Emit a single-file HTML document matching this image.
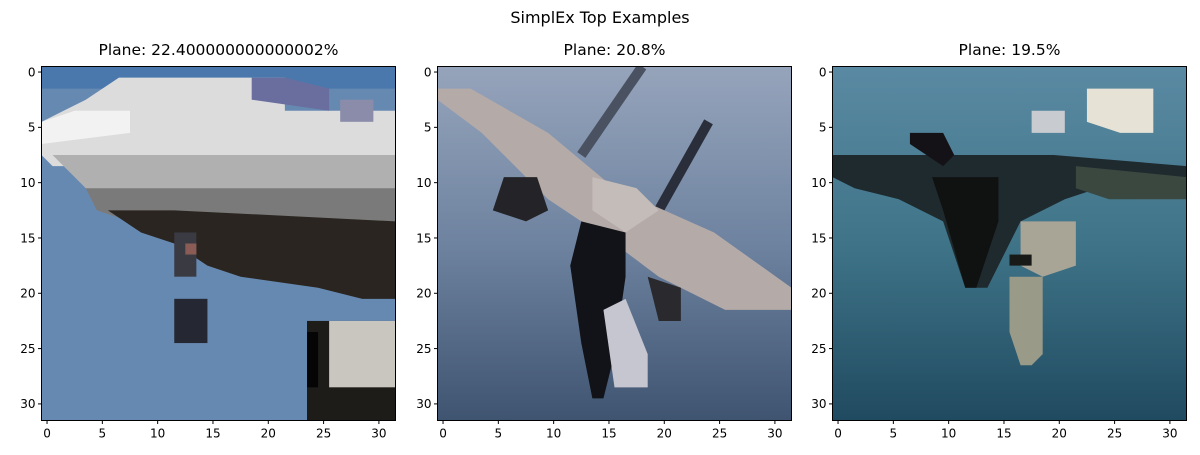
<!DOCTYPE html>
<html><head><meta charset="utf-8"><style>
body{margin:0;background:#fff;font-family:"Liberation Sans","DejaVu Sans",sans-serif}
svg text{font-family:"DejaVu Sans","Liberation Sans",sans-serif}
</style></head><body>
<svg id="fig" width="1200" height="450" viewBox="0 0 1200 450">
<rect width="1200" height="450" fill="#fff"/>
<text x="600" y="23" font-size="16" text-anchor="middle">SimplEx Top Examples</text>
<defs>
<linearGradient id="g2" x1="0" y1="0" x2="0" y2="1"><stop offset="0" stop-color="#96a4bb"/><stop offset="0.5" stop-color="#6e83a0"/><stop offset="1" stop-color="#3f5470"/></linearGradient>
<linearGradient id="g3" x1="0" y1="0" x2="0" y2="1"><stop offset="0" stop-color="#5a8aa3"/><stop offset="0.5" stop-color="#3f7488"/><stop offset="1" stop-color="#204a60"/></linearGradient>
</defs>
<!-- image 1 -->
<svg x="41.5" y="66.5" width="354" height="354" viewBox="0 0 32 32" preserveAspectRatio="none">
<rect width="32" height="32" fill="#6689b2"/>
<rect width="32" height="2" fill="#4a78ad"/>
<polygon points="7,1 22,1 22,4 32,4 32,9 1,9 0,8 0,5 2,4 4,3" fill="#dcdcdc"/>
<polygon points="0,5 3,4 8,4 8,6 0,7" fill="#f2f2f2"/>
<polygon points="19,1 22,1 26,2 26,4 19,3" fill="#6a6e9f"/>
<rect x="27" y="3" width="3" height="2" fill="#8a8caa"/>
<polygon points="1,8 32,8 32,12 5,12 3,10 2,9" fill="#b0b0b0"/>
<polygon points="4,11 32,11 32,14 8,14 5,13" fill="#7a7a7a"/>
<polygon points="6,13 12,13 32,14 32,21 29,21 25,20 18,19 15,18 12,16 9,15" fill="#2a2520"/>
<rect x="12" y="15" width="2" height="4" fill="#3a3a42"/>
<rect x="13" y="16" width="1" height="1" fill="#8a5c55"/>
<rect x="12" y="21" width="3" height="4" fill="#252833"/>
<rect x="24" y="23" width="8" height="9" fill="#1e1c18"/>
<rect x="26" y="23" width="6" height="6" fill="#c8c6bf"/>
<rect x="24" y="24" width="1" height="5" fill="#050505"/>
</svg>
<!-- image 2 -->
<svg x="437.5" y="66.5" width="354" height="354" viewBox="0 0 32 32" preserveAspectRatio="none">
<rect width="32" height="32" fill="url(#g2)"/>
<line x1="18.5" y1="0" x2="13" y2="8" stroke="#4a5262" stroke-width="0.9"/>
<line x1="24.5" y1="5" x2="20" y2="13" stroke="#2a2e3a" stroke-width="0.9"/>
<polygon points="0,2 3,2 10,6 16,11 25,15 32,20 32,22 26,22 20,19 16,16 10,12 4,6 0,3" fill="#b4aaa8"/>
<polygon points="14,10 18,11 20,13 17,15 14,13" fill="#c4bcb8"/>
<polygon points="6,10 9,10 10,13 8,14 5,13" fill="#242428"/>
<polygon points="13,14 17,15 17,19 16,26 15,30 14,30 13,25 12,18" fill="#111318"/>
<polygon points="15,22 17,21 19,26 19,29 16,29" fill="#c6c6d0"/>
<polygon points="19,19 22,20 22,23 20,23" fill="#2a2a2e"/>
</svg>
<!-- image 3 -->
<svg x="832.5" y="66.5" width="354" height="354" viewBox="0 0 32 32" preserveAspectRatio="none">
<rect width="32" height="32" fill="url(#g3)"/>
<polygon points="23,2 29,2 29,6 26,6 23,5" fill="#e6e2d6"/>
<polygon points="18,4 21,4 21,6 18,6" fill="#c8ccd0"/>
<polygon points="0,8 20,8 32,9 32,11 24,11 21,12 17,14 14,20 12,20 10,14 6,12 2,11 0,10" fill="#1e2a2e"/>
<polygon points="22,9 32,10 32,12 25,12 22,11" fill="#3a4840"/>
<polygon points="7,6 10,6 11,8 10,9 7,7" fill="#141216"/>
<polygon points="9,10 15,10 15,14 13,20 12,20 10,13" fill="#101212"/>
<polygon points="17,14 22,14 22,18 19,19 17,18" fill="#a8a496"/>
<polygon points="16,19 19,19 19,26 18,27 17,27 16,24" fill="#9a9a88"/>
<rect x="16" y="17" width="2" height="1" fill="#181a18"/>
</svg>
<g id="axes" font-size="12" fill="#000"></g>
</svg>
<script>
const panelLefts = [41.5, 437.5, 832.5];
const panelTitles = ["Plane: 22.400000000000002%", "Plane: 20.8%", "Plane: 19.5%"];
const tickValues = [0, 5, 10, 15, 20, 25, 30];
const NS = "http://www.w3.org/2000/svg";
const g = document.getElementById('axes');
const top0 = 66.5, size = 354, npx = 32;
const sc = v => (v + 0.5) * size / npx;
function mk(tag, attrs, parent) { const e = document.createElementNS(NS, tag); for (const k in attrs) e.setAttribute(k, attrs[k]); parent.appendChild(e); return e; }
panelLefts.forEach((L, i) => {
  const fr = mk('rect', {x: L, y: top0, width: size, height: size, fill: 'none', stroke: '#000', 'stroke-width': 1}, g);
  
  
  const t = mk('text', {x: L + size / 2, y: 55, 'font-size': 15.5, 'text-anchor': 'middle'}, g);
  t.textContent = panelTitles[i];
  
  
  tickValues.forEach(v => {
    const x = L + sc(v), y = top0 + sc(v);
    mk('line', {x1: x, y1: top0 + size, x2: x, y2: top0 + size + 3.5, stroke: '#000'}, g);
    const tx = mk('text', {x: x, y: top0 + size + 17, 'text-anchor': 'middle'}, g);
    tx.textContent = v;
    
    
    mk('line', {x1: L - 3.5, y1: y, x2: L, y2: y, stroke: '#000'}, g);
    const ty = mk('text', {x: L - 6, y: y + 4.3, 'text-anchor': 'end'}, g);
    ty.textContent = v;
    
    
  });
});
</script>
</body></html>
